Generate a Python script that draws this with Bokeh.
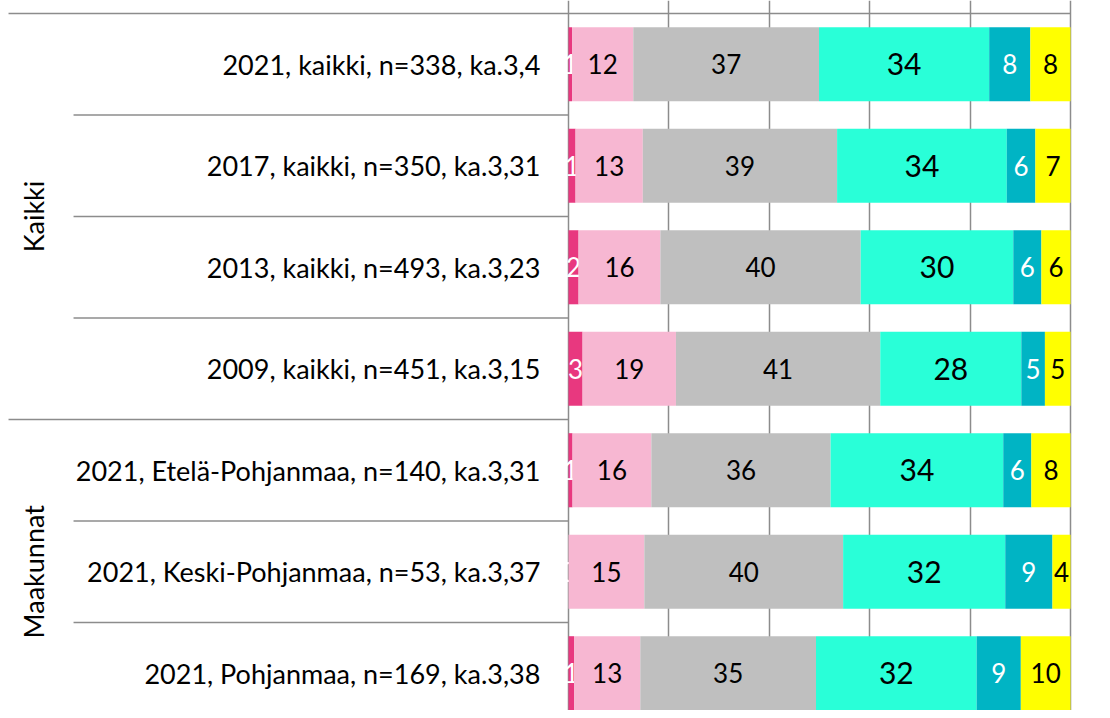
import numpy as np
from bokeh.plotting import figure
from bokeh.models import Range1d, FixedTicker
from bokeh.core.properties import value
from bokeh.embed import file_html
from bokeh.resources import INLINE

# ---- data ----
categories = [
    "2021, kaikki, n=338, ka.3,4",
    "2017, kaikki, n=350, ka.3,31",
    "2013, kaikki, n=493, ka.3,23",
    "2009, kaikki, n=451, ka.3,15",
    "2021, Etelä-Pohjanmaa, n=140, ka.3,31",
    "2021, Keski-Pohjanmaa, n=53, ka.3,37",
    "2021, Pohjanmaa, n=169, ka.3,38",
]
groups = ["Kaikki", "Maakunnat"]
group_sizes = [4, 3]

s1 = [0.7, 1.4, 2.0, 2.8, 0.8, 0.0, 1.1]
s2 = [12.2, 13.4, 16.3, 18.6, 15.7, 15.1, 13.2]
s3 = [37.0, 38.7, 39.9, 40.7, 35.7, 39.6, 35.0]
s4 = [33.9, 33.8, 30.4, 28.1, 34.4, 32.3, 32.0]
s5 = [8.2, 5.7, 5.6, 4.7, 5.6, 9.4, 8.8]
s6 = [8.0, 7.0, 5.8, 5.1, 7.8, 3.6, 9.9]

series = [s1, s2, s3, s4, s5, s6]
colors = ["#E8387F", "#F7B7D2", "#BFBFBF", "#29FFD8", "#00B4C4", "#FFFF00"]
label_colors = ["white", "black", "black", "black", "white", "black"]
label_sizes = ["26px", "26px", "26px", "30px", "26px", "26px"]

grid_ticks = [0, 20, 40, 60, 80, 100]

# ---- layout ----
FONT = "Lato"
LINE_COL = "#8C8C8C"
rows = np.arange(len(categories))

p = figure(width=1102, height=710, output_backend="svg", toolbar_location=None,
           x_range=Range1d(-113.15, 106.37), y_range=Range1d(6.367, -0.628),
           min_border=0, outline_line_color=None)
p.xaxis.visible = False
p.yaxis.visible = False
p.ygrid.visible = False
p.xgrid.ticker = FixedTicker(ticks=grid_ticks)
p.xgrid.grid_line_color = LINE_COL
p.xgrid.grid_line_width = 1.5

# bars
left = np.zeros(len(categories))
for vals, col, lc, ls in zip(series, colors, label_colors, label_sizes):
    v = np.array(vals)
    right = left + v
    p.hbar(y=rows, left=left, right=right, height=0.73, fill_color=col, line_color=None)
    p.text(x=(left + right) / 2, y=rows, text=[f"{x:.0f}" for x in v],
           text_align="center", text_baseline="middle", text_color=lc,
           text_font=value(FONT), text_font_size=ls)
    left = right

# category labels
p.text(x=[-5.6] * len(categories), y=rows, text=categories, text_align="right",
       text_baseline="middle", text_color="black", text_font=value(FONT),
       text_font_size="27px")

# separators
bounds = np.cumsum([0] + group_sizes) - 0.5
inner = [r + 0.5 for r in rows[:-1] if (r + 0.5) not in bounds]
p.segment(x0=[-98.6] * len(inner), y0=inner, x1=[0] * len(inner), y1=inner,
          line_color=LINE_COL, line_width=1.5)
outer = [b for b in bounds[1:-1]]
p.segment(x0=[-111.55] * len(outer), y0=outer, x1=[0] * len(outer), y1=outer,
          line_color=LINE_COL, line_width=1.5)
p.segment(x0=[-111.55], y0=[bounds[0]], x1=[100], y1=[bounds[0]],
          line_color=LINE_COL, line_width=1.5)

# group labels
centers = [(bounds[i] + bounds[i + 1]) / 2 for i in range(len(groups))]
p.text(x=[-106.6] * len(groups), y=centers, text=groups, angle=np.pi / 2,
       text_align="center", text_baseline="middle", text_color="black",
       text_font=value(FONT), text_font_size="27px")

open("out.html", "w").write(file_html(p, INLINE))
